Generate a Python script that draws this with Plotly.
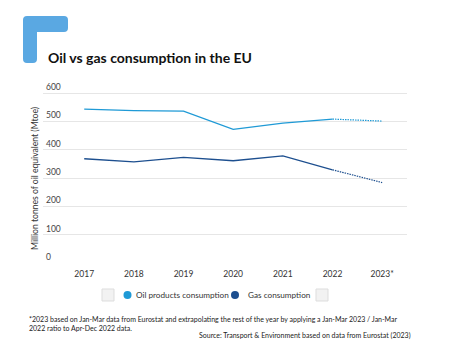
import plotly.graph_objects as go

years = ["2017", "2018", "2019", "2020", "2021", "2022", "2023*"]
oil = [543, 538, 536, 472, 494, 508, 501]
gas = [368, 357, 373, 361, 378, 329, 284]
y_ticks = [0, 100, 200, 300, 400, 500, 600]

OIL_C = "#1f9ad6"
GAS_C = "#1d4f8f"
FONT = "Lato"

W, H = 450, 354
L, R, T, B = 43, 43, 82, 91

def px(x):
    return (x - L) / (W - L - R)

def py(y):
    return (H - B - y) / (H - T - B)

fig = go.Figure()
# solid actual data
fig.add_trace(go.Scatter(x=years[:6], y=oil[:6], mode="lines",
                         line=dict(color=OIL_C, width=1.3), showlegend=False))
fig.add_trace(go.Scatter(x=years[:6], y=gas[:6], mode="lines",
                         line=dict(color=GAS_C, width=1.3), showlegend=False))
# dotted projections
fig.add_trace(go.Scatter(x=years[5:], y=oil[5:], mode="lines",
                         line=dict(color=OIL_C, width=1.2, dash="1.5px,1px"), showlegend=False))
fig.add_trace(go.Scatter(x=years[5:], y=gas[5:], mode="lines",
                         line=dict(color=GAS_C, width=1.2, dash="1.5px,1px"), showlegend=False))

fig.update_xaxes(type="category", categoryorder="array", categoryarray=years,
                 range=[-0.83, 6.5], showgrid=False, zeroline=False, showline=False,
                 ticks="", tickfont=dict(family=FONT, size=8.5, color="#333"),
                 ticklabelstandoff=4)
fig.update_yaxes(range=[0, 639], tickvals=y_ticks, showgrid=True, gridcolor="#e6e6e6",
                 gridwidth=1, zeroline=False, showline=False, ticks="",
                 ticklabelposition="inside top",
                 tickfont=dict(family=FONT, size=8.5, color="#444"))

shapes = []
# decorative corner shape
rr = 4
path = (f"M {px(23)},{py(16+rr)} Q {px(23)},{py(16)} {px(23+rr)},{py(16)} "
        f"L {px(68-rr)},{py(16)} Q {px(68)},{py(16)} {px(68)},{py(16+rr)} "
        f"L {px(68)},{py(32-rr)} Q {px(68)},{py(32)} {px(68-rr)},{py(32)} "
        f"L {px(37)},{py(32)} L {px(37)},{py(63-rr)} Q {px(37)},{py(63)} {px(37-rr)},{py(63)} "
        f"L {px(23+rr)},{py(63)} Q {px(23)},{py(63)} {px(23)},{py(63-rr)} Z")
shapes.append(dict(type="path", xref="paper", yref="paper", path=path,
                   fillcolor="#5aa8e2", line=dict(width=0)))
# legend boxes
for cx in (108, 322):
    shapes.append(dict(type="rect", xref="paper", yref="paper",
                       x0=px(cx - 6), x1=px(cx + 6), y0=py(301), y1=py(289),
                       fillcolor="#f2f2f2", line=dict(color="#dddddd", width=1)))
# legend dots
for cx, col in ((127.5, OIL_C), (235, GAS_C)):
    shapes.append(dict(type="circle", xref="paper", yref="paper",
                       x0=px(cx - 4), x1=px(cx + 4), y0=py(299), y1=py(291),
                       fillcolor=col, line=dict(width=0)))
fig.update_layout(shapes=shapes)

ann = []
ann.append(dict(x=px(46), y=py(57), xref="paper", yref="paper", xanchor="left",
                yanchor="middle", showarrow=False,
                text="<b>Oil vs gas consumption in the EU</b>",
                font=dict(family=FONT, size=14, color="#111")))
ann.append(dict(x=px(35), y=py(179), xref="paper", yref="paper", xanchor="center",
                yanchor="middle", showarrow=False, textangle=-90,
                text="Million tonnes of oil equivalent (Mtoe)",
                font=dict(family=FONT, size=8.6, color="#333")))
ann.append(dict(x=px(134), y=py(295), xref="paper", yref="paper", xanchor="left",
                yanchor="middle", showarrow=False, text="Oil products consumption",
                font=dict(family=FONT, size=8.2, color="#333")))
ann.append(dict(x=px(246), y=py(295), xref="paper", yref="paper", xanchor="left",
                yanchor="middle", showarrow=False, text="Gas consumption",
                font=dict(family=FONT, size=8.2, color="#333")))
ann.append(dict(x=px(27), y=py(323), xref="paper", yref="paper", xanchor="left",
                yanchor="middle", showarrow=False, align="left",
                text=("*2023 based on Jan-Mar data from Eurostat and extrapolating the rest of the year by applying a Jan-Mar 2023 / Jan-Mar"
                      "<br>2022 ratio to Apr-Dec 2022 data."),
                font=dict(family=FONT, size=7, color="#222")))
ann.append(dict(x=px(413), y=py(335), xref="paper", yref="paper", xanchor="right",
                yanchor="middle", showarrow=False,
                text="Source: Transport & Environment based on data from Eurostat (2023)",
                font=dict(family=FONT, size=7, color="#222")))
fig.update_layout(annotations=ann)

fig.update_layout(width=W, height=H, margin=dict(l=L, r=R, t=T, b=B),
                  paper_bgcolor="white", plot_bgcolor="white", showlegend=False,
                  font=dict(family=FONT))
fig.write_html("out.html")
